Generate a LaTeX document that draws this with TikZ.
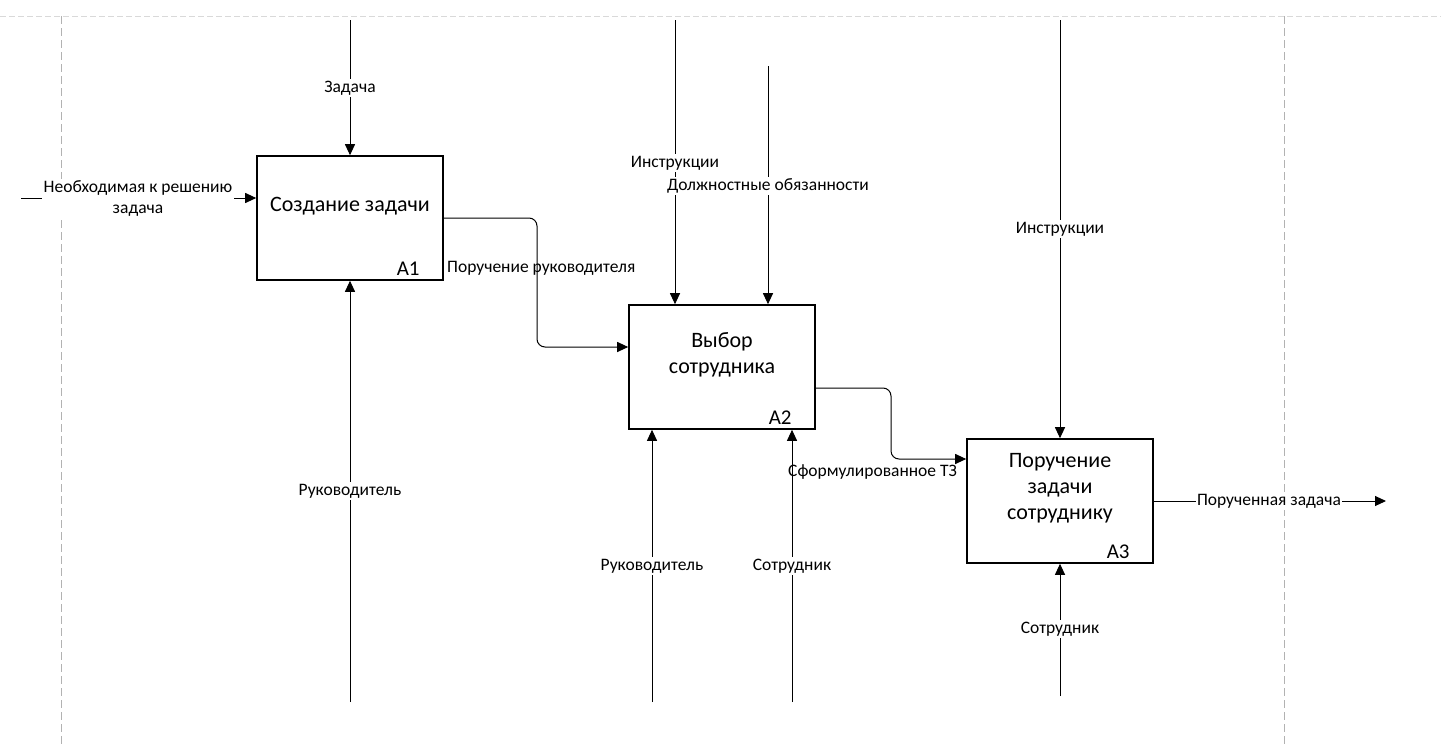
\documentclass[tikz,border=0pt]{standalone}
\usepackage{fontspec}
\setmainfont{Carlito}
\usetikzlibrary{arrows.meta}
\begin{document}
\begin{tikzpicture}[x=1pt,y=-1pt,
  box/.style={draw, line width=1.6pt, minimum width=186pt, minimum height=124pt, inner sep=0pt},
  btext/.style={align=center, inner sep=0pt, font=\fontsize{22}{26}\selectfont},
  aid/.style={font=\fontsize{21}{24}\selectfont, inner sep=0pt},
  arr/.style={line width=1pt, -{Triangle[length=11pt,width=10pt]}},
  lbl/.style={fill=white, inner sep=1.5pt, font=\fontsize{17.5}{21}\selectfont, align=center},
  lbln/.style={inner sep=1pt, font=\fontsize{17.5}{21}\selectfont},
  frame/.style={line width=1pt, draw=black!30, dash pattern=on 8pt off 4pt},
  topframe/.style={line width=1pt, draw=black!15, dash pattern=on 6pt off 3pt}]
\useasboundingbox (0,0) rectangle (1441,747);
\fill[white] (0,0) rectangle (1441,747);
% frame
\coordinate (fl0) at (0,16); \coordinate (fr0) at (1441,16);
\draw[topframe] (fl0) -- (fr0);
\coordinate (vl0) at (61,16); \coordinate (vl1) at (61,747);
\coordinate (vr0) at (1284,16); \coordinate (vr1) at (1284,747);
\draw[frame] (vl0) -- (vl1);
\draw[frame] (vr0) -- (vr1);
% boxes
\node[box] (A1) at (350,218) {};
\node[box] (A2) at (722,367) {};
\node[box] (A3) at (1060,501) {};
\node[btext] (t1) at ([yshift=12pt]A1.center) {Создание задачи};
\node[btext] (t2) at ([yshift=12pt]A2.center) {Выбор\\сотрудника};
\node[btext] (t3) at ([yshift=13pt]A3.center) {Поручение\\задачи\\сотруднику};
\node[aid, anchor=south east] (id1) at ([xshift=-24pt,yshift=5pt]A1.south east) {A1};
\node[aid, anchor=south east] (id2) at ([xshift=-24pt,yshift=5pt]A2.south east) {A2};
\node[aid, anchor=south east] (id3) at ([xshift=-24pt,yshift=5pt]A3.south east) {A3};
% A1 connectors
\coordinate (c1) at (350,20);
\draw[arr] (c1) -- (A1.north);
\coordinate (i1) at (21,198);
\draw[arr] (i1) -- (i1 -| A1.west);
\coordinate (m1) at (350,702);
\draw[arr] (m1) -- (A1.south);
% A1 -> A2
\coordinate (o1a) at (537,218);
\coordinate (o1b) at (537,347);
\draw[arr, rounded corners=8pt] (A1.east) -- (o1a) -- (o1b) -- (o1b -| A2.west);
% A2 controls
\coordinate (c2a) at (675,20);
\coordinate (c2b) at (768,66);
\draw[arr] (c2a) -- (c2a |- A2.north);
\draw[arr] (c2b) -- (c2b |- A2.north);
% A2 mechanisms
\coordinate (m2a) at (652,702);
\coordinate (m2b) at (792,702);
\draw[arr] (m2a) -- (m2a |- A2.south);
\draw[arr] (m2b) -- (m2b |- A2.south);
% A2 -> A3
\coordinate (o2s) at (A2.east |- 0,388);
\coordinate (o2a) at (891,388);
\coordinate (o2b) at (891,459);
\draw[arr, rounded corners=8pt] (o2s) -- (o2a) -- (o2b) -- (o2b -| A3.west);
% A3
\coordinate (c3) at (1060,20);
\draw[arr] (c3) -- (A3.north);
\coordinate (m3) at (1060,696);
\draw[arr] (m3) -- (A3.south);
\coordinate (o3) at (1386,501);
\draw[arr] (A3.east) -- (o3);
% labels
\node[lbl] (l1) at (350,88) {Задача};
\node[lbl] (l2) at (138,198) {Необходимая к решению\\задача};
\node[lbl] (l3) at (350,491) {Руководитель};
\node[lbln, anchor=west] (l4) at (446,268) {Поручение руководителя};
\node[lbl] (l5) at (675,163) {Инструкции};
\node[lbl] (l6) at (768,186) {Должностные обязанности};
\node[lbl] (l7) at (652,566) {Руководитель};
\node[lbl] (l8) at (792,566) {Сотрудник};
\node[lbln, anchor=west] (l9) at (787,472) {Сформулированное ТЗ};
\node[lbl] (l10) at (1060,229) {Инструкции};
\node[lbl] (l11) at (1060,629) {Сотрудник};
\node[lbl] (l12) at (1269,501) {Порученная задача};
\end{tikzpicture}
\end{document}
